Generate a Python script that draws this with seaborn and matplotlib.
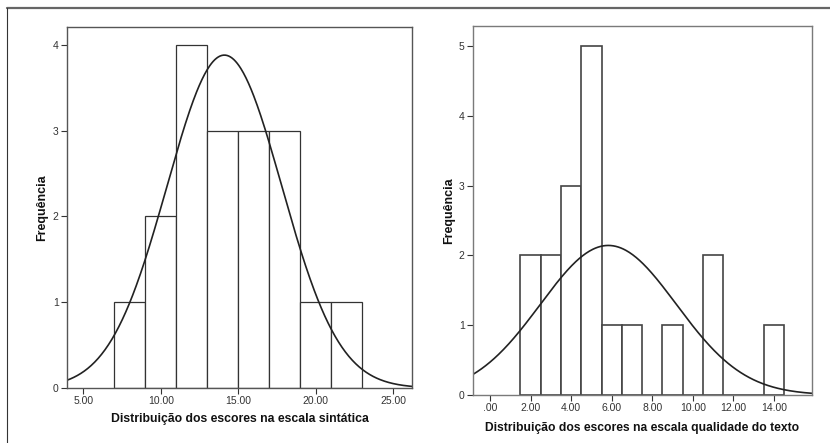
import numpy as np
import matplotlib
matplotlib.use("Agg")
import matplotlib.pyplot as plt
from matplotlib.lines import Line2D
import seaborn as sns

sns.set_theme(style="white")
plt.rcParams["font.family"] = ["Liberation Sans", "DejaVu Sans"]

# left panel: escala sintatica (bins of width 2)
sint_edges = [7, 9, 11, 13, 15, 17, 19, 21, 23]
sint_counts = [1, 2, 4, 3, 3, 3, 1, 1]
sint_mean, sint_sd = 14.1, 3.7
sint_ticks = [5, 10, 15, 20, 25]

# right panel: qualidade do texto (bins of width 1)
qual_centers = [2, 3, 4, 5, 6, 7, 9, 11, 14]
qual_counts = [2, 2, 3, 5, 1, 1, 1, 2, 1]
qual_mean, qual_sd = 5.83, 3.35
qual_ticks = [0, 2, 4, 6, 8, 10, 12, 14]

fig = plt.figure(figsize=(8.3, 4.43), dpi=100)
fig.patch.set_facecolor("white")

ax1 = fig.add_axes([0.0807, 0.1242, 0.4157, 0.815])
ax2 = fig.add_axes([0.5699, 0.1084, 0.4084, 0.833])


def draw_panel(ax, centers, counts, edges, mean, sd, xlim, ylim, yticks,
               xticks, fmt, xlabel, edge_col, spine_col, bar_lw, xfs, xpad):
    n = sum(counts)
    width = edges[1] - edges[0]
    sns.histplot(x=centers, weights=counts, bins=edges, ax=ax,
                 color="white", edgecolor=edge_col, linewidth=bar_lw,
                 alpha=1)
    xs = np.linspace(xlim[0], xlim[1], 400)
    ys = n * width * np.exp(-0.5 * ((xs - mean) / sd) ** 2) / (sd * np.sqrt(2 * np.pi))
    sns.lineplot(x=xs, y=ys, ax=ax, color="#222222", linewidth=1.2)
    ax.set_xlim(*xlim)
    ax.set_ylim(*ylim)
    ax.set_yticks(yticks)
    ax.set_yticklabels([str(v) for v in yticks])
    ax.set_xticks(xticks)
    ax.set_xticklabels([fmt(v) for v in xticks])
    ax.tick_params(axis="both", direction="out", length=4, width=0.8,
                   colors="#333333", labelsize=7.5, pad=2,
                   bottom=True, left=True)
    for s in ax.spines.values():
        s.set_visible(True)
        s.set_color(spine_col)
        s.set_linewidth(1.0)
    ax.set_xlabel(xlabel, fontsize=xfs, fontweight="bold", color="#111111",
                  labelpad=xpad)
    ax.set_ylabel("Frequência", fontsize=9, fontweight="bold",
                  color="#111111", labelpad=3)


sint_centers = [(a + b) / 2 for a, b in zip(sint_edges[:-1], sint_edges[1:])]
draw_panel(ax1, sint_centers, sint_counts, sint_edges, sint_mean, sint_sd,
           (3.95, 26.2), (0, 4.21), [0, 1, 2, 3, 4], sint_ticks,
           lambda v: f"{v:.2f}",
           "Distribuição dos escores na escala sintática",
           "#333333", "#555555", 0.9, 8.8, 5)

qual_edges = list(np.arange(1.5, 15.5, 1.0))
draw_panel(ax2, qual_centers, qual_counts, qual_edges, qual_mean, qual_sd,
           (-0.84, 15.87), (0, 5.29), [0, 1, 2, 3, 4, 5], qual_ticks,
           lambda v: ".00" if v == 0 else f"{v:.2f}",
           "Distribuição dos escores na escala qualidade do texto",
           "#444444", "#7a7a7a", 1.2, 8.7, 6)

# outer frame lines
fig.add_artist(Line2D([7 / 830, 1.0], [1 - 8 / 443, 1 - 8 / 443],
                      transform=fig.transFigure, color="#666666", linewidth=1.6))
fig.add_artist(Line2D([7 / 830, 7 / 830], [0, 1 - 8 / 443],
                      transform=fig.transFigure, color="#333333", linewidth=0.8))

plt.savefig("out.png", dpi=100)
plt.close()
